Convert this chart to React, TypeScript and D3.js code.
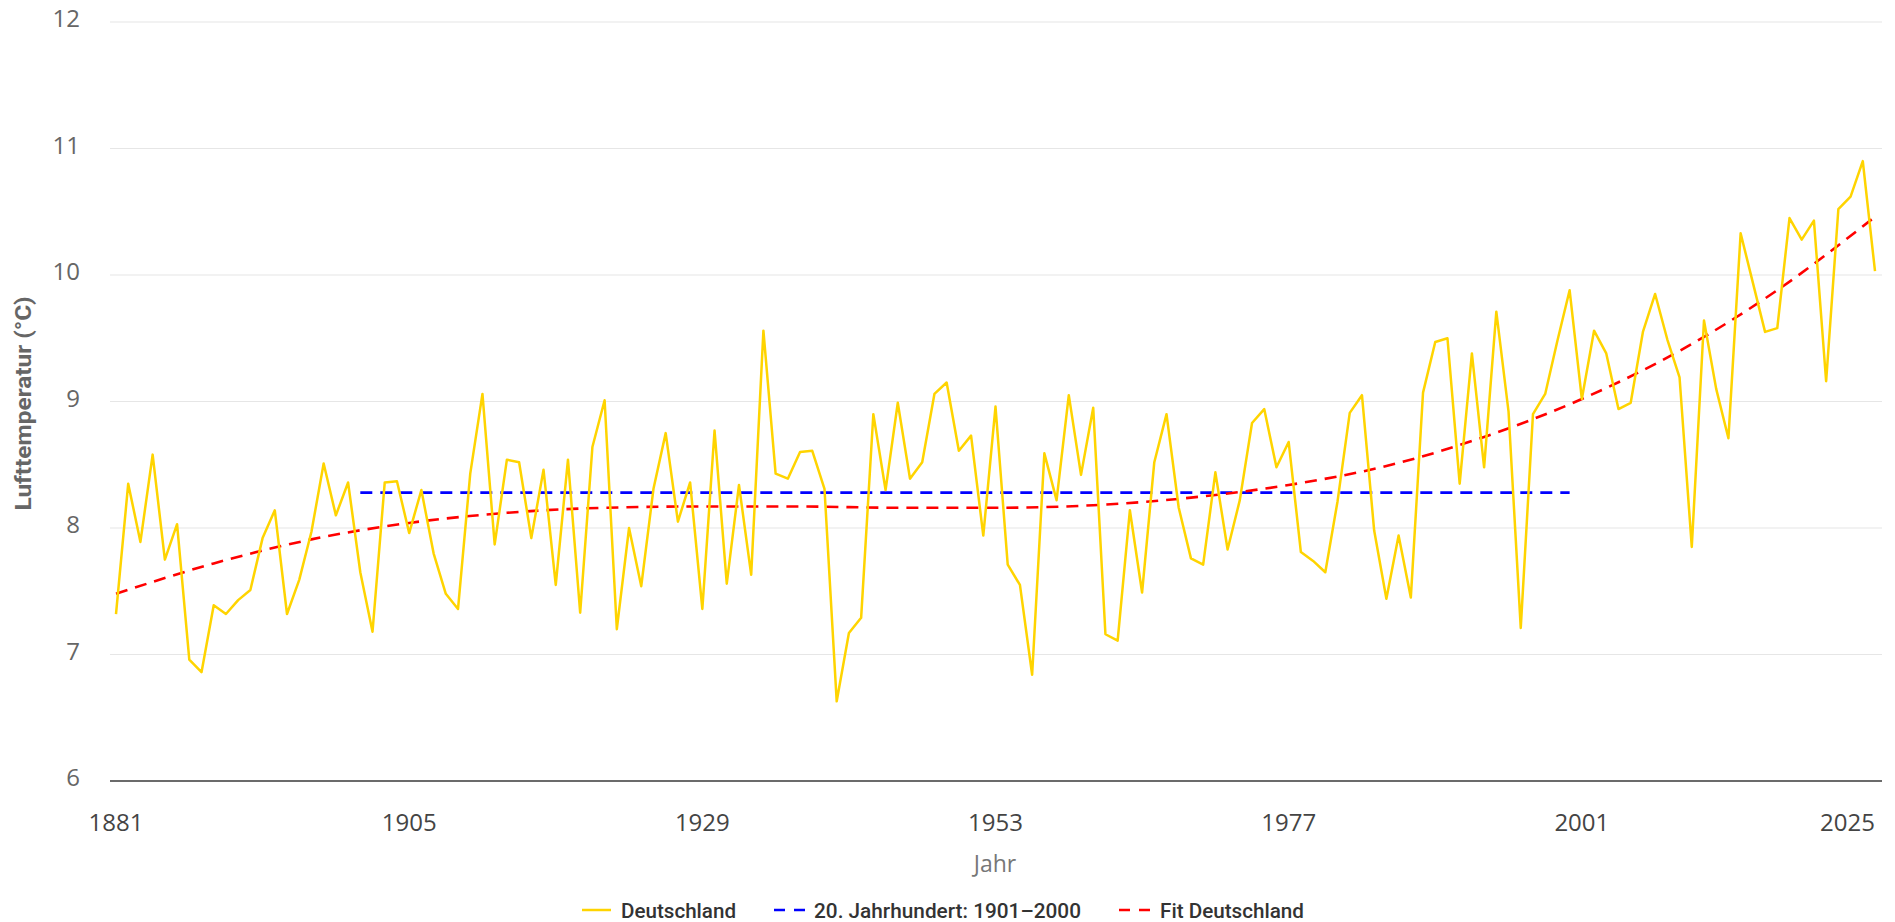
import React from 'react';
import * as d3 from 'd3';

// ---------- data ----------
const years: number[] = d3.range(1881, 2026);
const temps: number[] = [
  7.32, 8.35, 7.89, 8.58, 7.75, 8.03, 6.96, 6.86, 7.39, 7.32, // 1881-1890
  7.43, 7.51, 7.92, 8.14, 7.32, 7.59, 7.97, 8.51, 8.10, 8.36, // 1891-1900
  7.65, 7.18, 8.36, 8.37, 7.96, 8.30, 7.80, 7.48, 7.36, 8.43, // 1901-1910
  9.06, 7.87, 8.54, 8.52, 7.92, 8.46, 7.55, 8.54, 7.33, 8.64, // 1911-1920
  9.01, 7.20, 8.00, 7.54, 8.31, 8.75, 8.05, 8.36, 7.36, 8.77, // 1921-1930
  7.56, 8.34, 7.63, 9.56, 8.43, 8.39, 8.60, 8.61, 8.31, 6.63, // 1931-1940
  7.17, 7.29, 8.90, 8.30, 8.99, 8.39, 8.52, 9.06, 9.15, 8.61, // 1941-1950
  8.73, 7.94, 8.96, 7.71, 7.55, 6.84, 8.59, 8.22, 9.05, 8.42, // 1951-1960
  8.95, 7.16, 7.11, 8.14, 7.49, 8.52, 8.90, 8.16, 7.76, 7.71, // 1961-1970
  8.44, 7.83, 8.22, 8.83, 8.94, 8.48, 8.68, 7.81, 7.74, 7.65, // 1971-1980
  8.21, 8.91, 9.05, 7.98, 7.44, 7.94, 7.45, 9.07, 9.47, 9.50, // 1981-1990
  8.35, 9.38, 8.48, 9.71, 8.92, 7.21, 8.90, 9.06, 9.48, 9.88, // 1991-2000
  9.02, 9.56, 9.38, 8.94, 8.99, 9.55, 9.85, 9.49, 9.19, 7.85, // 2001-2010
  9.64, 9.10, 8.71, 10.33, 9.94, 9.55, 9.58, 10.45, 10.28, 10.43, // 2011-2020
  9.16, 10.52, 10.62, 10.90, 10.03, // 2021-2025
];

const fitYears: number[] = [1881, 1889, 1897, 1905, 1913, 1921, 1929, 1937, 1945, 1953, 1961, 1969, 1977, 1985, 1993, 2001, 2009, 2017, 2025];
const fitValues: number[] = [7.48, 7.72, 7.91, 8.04, 8.12, 8.16, 8.17, 8.17, 8.16, 8.16, 8.18, 8.24, 8.34, 8.49, 8.72, 9.02, 9.40, 9.88, 10.46];

const meanYears: number[] = [1901, 2000];
const meanValues: number[] = [8.28, 8.28];

const yTicks: number[] = [6, 7, 8, 9, 10, 11, 12];
const xTicks: number[] = [1881, 1905, 1929, 1953, 1977, 2001, 2025];

const legendLabels: string[] = ['Deutschland', '20. Jahrhundert: 1901–2000', 'Fit Deutschland'];
const legendColors: string[] = ['#ffd400', '#0000ff', '#ff0000'];

const yTitle = 'Lufttemperatur (°C)';
const xTitle = 'Jahr';

// ---------- layout ----------
const W = 1895;
const H = 922;
const plotLeft = 110;
const plotRight = 1882;
const plotTop = 22;
const plotBottom = 781;

const tickFont = "'Open Sans', 'DejaVu Sans', sans-serif";
const condFont = "Roboto, 'Noto Sans', 'DejaVu Sans', sans-serif";

export default function App() {
  const x = d3.scaleLinear().domain([1881, 2025]).range([116, 1875]);
  const y = d3.scaleLinear().domain([6, 12]).range([plotBottom, plotTop]);

  const line = d3
    .line<[number, number]>()
    .x((d) => x(d[0]))
    .y((d) => y(d[1]));

  const dataPath = line(years.map((yr, i) => [yr, temps[i]] as [number, number])) || '';
  const meanPath = line(meanYears.map((yr, i) => [yr, meanValues[i]] as [number, number])) || '';
  const fitLine = d3
    .line<[number, number]>()
    .x((d) => x(d[0]))
    .y((d) => y(d[1]))
    .curve(d3.curveMonotoneX);
  const fitPath = fitLine(fitYears.map((yr, i) => [yr, fitValues[i]] as [number, number])) || '';

  const legendSymX = [582, 774, 1119];
  const legendTextX = [621, 814, 1160];
  const legendTextW = [115, 267, 144];
  const legendY = 910;

  return (
    <svg
      width={W}
      height={H}
      style={{ position: 'absolute', left: 0, top: 0, display: 'block', background: '#ffffff' }}
    >
      {/* grid lines */}
      {yTicks.map((t) =>
        t === 6 ? null : (
          <line key={'g' + t} x1={plotLeft} x2={plotRight} y1={y(t)} y2={y(t)} stroke="#e6e6e6" strokeWidth={1.2} />
        )
      )}
      {/* x axis line */}
      <line x1={plotLeft} x2={plotRight} y1={y(6)} y2={y(6)} stroke="#3a3a3a" strokeWidth={1.5} />

      {/* y tick labels */}
      {yTicks.map((t) => (
        <text
          key={'yl' + t}
          x={80}
          y={y(t) - 3}
          dy="0.35em"
          textAnchor="end"
          fontFamily={tickFont}
          fontSize={24}
          fill="#666666"
        >
          {t}
        </text>
      ))}

      {/* x tick labels */}
      {xTicks.map((t, i) => (
        <text
          key={'xl' + t}
          x={i === xTicks.length - 1 ? x(t) : x(t)}
          y={831}
          textAnchor={i === xTicks.length - 1 ? 'end' : 'middle'}
          fontFamily={tickFont}
          fontSize={24}
          fill="#444444"
        >
          {t}
        </text>
      ))}

      {/* axis titles */}
      <text
        transform={`translate(31, ${(plotTop + plotBottom) / 2 + 2}) rotate(-90)`}
        textAnchor="middle"
        fontFamily={condFont}
        fontWeight="bold"
        fontSize={22}
        fill="#666666"
        textLength={214}
        lengthAdjust="spacingAndGlyphs"
      >
        {yTitle}
      </text>
      <text x={995} y={872} textAnchor="middle" fontFamily={tickFont} fontSize={23} fill="#777777">
        {xTitle}
      </text>

      {/* series */}
      <path d={meanPath} fill="none" stroke={legendColors[1]} strokeWidth={2.6} strokeDasharray="12,8" />
      <path d={fitPath} fill="none" stroke={legendColors[2]} strokeWidth={2.6} strokeDasharray="12,8" />
      <path d={dataPath} fill="none" stroke={legendColors[0]} strokeWidth={2.5} strokeLinejoin="round" />

      {/* legend */}
      {legendLabels.map((lab, i) => (
        <g key={'lg' + i}>
          {i === 0 ? (
            <line x1={legendSymX[i]} x2={legendSymX[i] + 29} y1={legendY} y2={legendY} stroke={legendColors[i]} strokeWidth={2.5} />
          ) : (
            <line
              x1={legendSymX[i]}
              x2={legendSymX[i] + 31}
              y1={legendY}
              y2={legendY}
              stroke={legendColors[i]}
              strokeWidth={2.6}
              strokeDasharray="11,9"
            />
          )}
          <text
            x={legendTextX[i]}
            y={legendY}
            dy="0.36em"
            fontFamily={condFont}
            fontWeight={500}
            fontSize={21}
            fill="#333333"
            textLength={legendTextW[i]}
            lengthAdjust="spacingAndGlyphs"
          >
            {lab}
          </text>
        </g>
      ))}
    </svg>
  );
}
